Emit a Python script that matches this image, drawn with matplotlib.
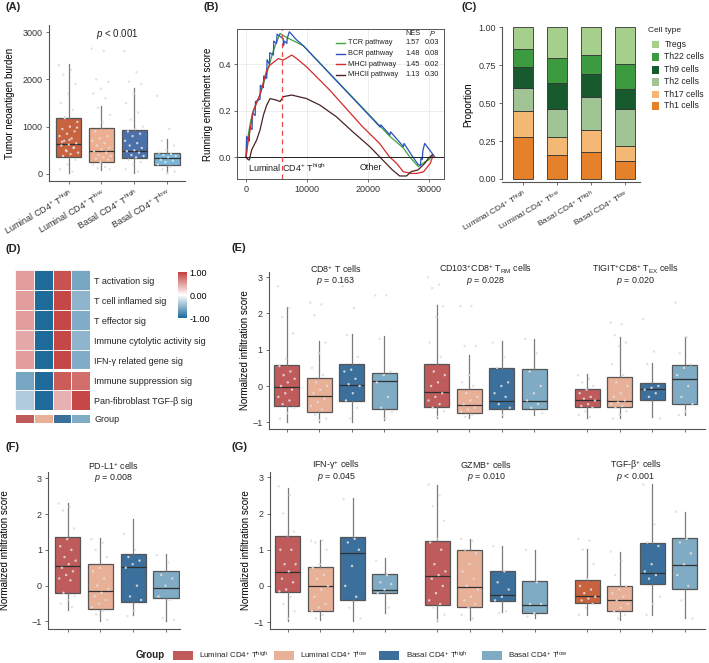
import numpy as np
import matplotlib
matplotlib.use("Agg")
import matplotlib.pyplot as plt
from matplotlib.colors import LinearSegmentedColormap, ListedColormap, Normalize
from matplotlib.cm import ScalarMappable
from matplotlib.patches import Rectangle

plt.rcParams['font.family'] = ['Liberation Sans', 'DejaVu Sans']
plt.rcParams['mathtext.fontset'] = 'custom'
plt.rcParams['mathtext.rm'] = 'Liberation Sans'
plt.rcParams['mathtext.it'] = 'Liberation Sans:italic'
plt.rcParams['text.color'] = '#222222'

W, H = 709, 663

groups = [r'Luminal CD4$^{+}$ T$^{\mathrm{high}}$', r'Luminal CD4$^{+}$ T$^{\mathrm{low}}$',
          r'Basal CD4$^{+}$ T$^{\mathrm{high}}$', r'Basal CD4$^{+}$ T$^{\mathrm{low}}$']

# ---- (A) tumor neoantigen burden
a_whislo = [20, 85, 14, 10]
a_q1 = [359, 260, 331, 190]
a_med = [627, 486, 493, 345]
a_q3 = [1176, 965, 930, 450]
a_whishi = [2317, 1437, 1810, 733]
a_points = [
    [2300, 2200, 2100, 1900, 1700, 1500, 1350, 1200, 1100, 1000, 950, 900, 850, 800, 750, 700, 650,
     620, 600, 550, 500, 450, 420, 380, 300, 200, 100, 50, 1180, 980, 720, 680, 560, 480],
    [2650, 2600, 2000, 1950, 1800, 1700, 1600, 1400, 1250, 1100, 900, 800, 750, 700, 650, 600, 550,
     520, 480, 450, 400, 380, 350, 320, 300, 250, 200, 150, 120, 100],
    [2600, 2150, 1950, 1900, 1700, 1500, 1300, 1150, 1000, 950, 900, 850, 800, 700, 650, 600, 550,
     500, 480, 450, 400, 380, 350, 300, 250, 200, 100, 50],
    [1650, 950, 700, 600, 500, 450, 420, 400, 380, 350, 300, 280, 250, 200, 150, 100, 50, 20],
]

# ---- (B) running enrichment score
gsea_names = ['TCR pathway', 'BCR pathway', 'MHCI pathway', 'MHCII pathway']
gsea_nes = ['1.57', '1.48', '1.45', '1.13']
gsea_p = ['0.03', '0.08', '0.02', '0.30']
tcr_x = [0, 400, 800, 1200, 2300, 3400, 4500, 5574, 6000, 7100, 9400, 23600, 25800, 26900, 28250, 29300, 30000, 30700]
tcr_y = [0, 0.10, 0.16, 0.20, 0.27, 0.36, 0.46, 0.533, 0.525, 0.51, 0.48, 0.09, 0.04, 0.0, -0.04, -0.02, -0.01, 0.01]
bcr_x = [0, 100, 550, 600, 1000, 1050, 1500, 1550, 2300, 2350, 2850, 2900, 3400, 3450, 3850, 3900, 4500, 4550,
         5000, 5100, 6100, 6150, 6300, 6700, 6750, 7100, 8300, 9400, 22000, 22100, 23600, 23700, 25800, 25900,
         27400, 28200, 28600, 28700, 28900, 29000, 29300, 31000]
bcr_y = [0, 0.09, 0.07, 0.13, 0.12, 0.19, 0.18, 0.24, 0.25, 0.31, 0.30, 0.35, 0.34, 0.42, 0.40, 0.45, 0.44, 0.50,
         0.49, 0.53, 0.51, 0.48, 0.50, 0.49, 0.51, 0.54, 0.505, 0.48, 0.13, 0.14, 0.096, 0.11, 0.046, 0.06,
         0.0, -0.03, -0.035, 0.0, -0.01, 0.03, 0.06, 0.0]
mhc1_x = [0, 383, 1200, 2300, 3400, 3900, 5300, 6100, 7500, 8300, 9900, 13700, 19100, 21900, 23500, 24700,
          25800, 27200, 28000, 29100, 30200, 30700]
mhc1_y = [0, 0.075, 0.2, 0.27, 0.375, 0.396, 0.425, 0.418, 0.44, 0.425, 0.39, 0.29, 0.132, 0.06, 0.003, -0.026,
          -0.062, -0.069, -0.069, -0.062, -0.026, 0.01]
mhc2_x = [0, 380, 550, 930, 1750, 2300, 2850, 3400, 3950, 5000, 5600, 6100, 7500, 9900, 12100, 14800, 17500,
          20300, 22400, 24000, 25200, 26300, 27100, 28200, 29300, 29900, 30500]
mhc2_y = [0, -0.01, -0.011, 0.032, 0.075, 0.118, 0.181, 0.225, 0.253, 0.246, 0.24, 0.261, 0.268, 0.253, 0.225,
          0.175, 0.11, 0.046, -0.011, -0.054, -0.08, -0.08, -0.061, -0.054, -0.026, -0.004, 0.01]
leading_edge = 5850

# ---- (C) cell type proportions
cell_types = ['Th1 cells', 'Th17 cells', 'Th2 cells', 'Th9 cells', 'Th22 cells', 'Tregs']
th1 = [0.28, 0.16, 0.18, 0.12]
th17 = [0.17, 0.12, 0.14, 0.10]
th2 = [0.15, 0.18, 0.22, 0.24]
th9 = [0.14, 0.17, 0.15, 0.13]
th22 = [0.12, 0.17, 0.13, 0.17]
tregs = [0.14, 0.20, 0.18, 0.24]

# ---- (D) signature heatmap
sig_names = ['T activation sig', 'T cell inflamed sig', 'T effector sig', 'Immune cytolytic activity sig',
             'IFN-γ related gene sig', 'Immune suppression sig', 'Pan-fibroblast TGF-β sig']
sig_values = [
    [0.50, -1.00, 0.90, -0.60],
    [0.50, -1.00, 0.95, -0.50],
    [0.50, -1.00, 0.95, -0.55],
    [0.45, -1.00, 0.95, -0.50],
    [0.50, -1.00, 0.95, -0.55],
    [-0.60, -1.00, 0.85, 0.75],
    [-0.35, -1.00, 0.40, 0.95],
]

# ---- (E) CD8 subsets
e_titles = [r'CD8$^{+}$ T cells', r'CD103$^{+}$CD8$^{+}$ T$_{\mathrm{RM}}$ cells', r'TIGIT$^{+}$CD8$^{+}$ T$_{\mathrm{EX}}$ cells']
e_pvals = [r'$p$ = 0.163', r'$p$ = 0.028', r'$p$ = 0.020']
e_whislo = [[-0.98, -0.98, -0.98, -0.94], [-0.89, -0.89, -0.85, -0.80], [-0.89, -0.89, -0.86, -0.80]]
e_q1 = [[-0.54, -0.71, -0.40, -0.64], [-0.59, -0.75, -0.64, -0.64], [-0.59, -0.57, -0.39, -0.50]]
e_med = [[-0.02, -0.28, 0.03, 0.14], [-0.17, -0.52, -0.40, -0.40], [-0.39, -0.41, -0.07, 0.18]]
e_q3 = [[0.58, 0.21, 0.61, 0.37], [0.61, -0.09, 0.51, 0.46], [-0.08, 0.24, 0.07, 0.59]]
e_whishi = [[2.17, 1.24, 1.43, 1.38], [2.23, 0.86, 1.24, 1.30], [0.33, 1.36, 0.63, 1.34]]
e_points = [
    [[2.75, 2.15, 1.9, 1.45, 0.75, 0.55, 0.4, 0.3, 0.2, 0.1, 0.0, -0.1, -0.2, -0.3, -0.4, -0.5, -0.6, -0.75, -0.9],
     [2.3, 2.25, 1.95, 1.2, 0.9, 0.5, 0.3, 0.1, 0.0, -0.1, -0.2, -0.35, -0.45, -0.55, -0.65, -0.8, -0.9, -0.95],
     [2.75, 2.15, 1.4, 0.8, 0.45, 0.4, 0.2, 0.05, 0.0, -0.2, -0.4, -0.6, -0.9],
     [2.5, 2.5, 1.3, 0.4, 0.3, 0.1, -0.3, -0.6, -0.7, -0.9]],
    [[3.0, 2.8, 2.7, 2.2, 1.9, 1.2, 0.8, 0.4, 0.3, 0.1, 0.0, -0.2, -0.3, -0.4, -0.5, -0.6, -0.7, -0.85],
     [2.2, 2.2, 1.1, 1.1, 0.3, 0.1, 0.0, -0.2, -0.3, -0.4, -0.5, -0.6, -0.65, -0.7, -0.8, -0.85],
     [1.2, 0.8, 0.5, 0.1, 0.0, -0.2, -0.3, -0.5, -0.6, -0.8],
     [1.3, 0.9, 0.4, 0.0, -0.2, -0.4, -0.5, -0.6, -0.75]],
    [[0.3, 0.2, 0.1, 0.0, -0.1, -0.2, -0.3, -0.35, -0.4, -0.5, -0.55, -0.6, -0.7, -0.8, -0.85],
     [1.75, 1.7, 1.4, 1.2, 1.1, 0.6, 0.3, 0.1, 0.0, -0.2, -0.3, -0.4, -0.45, -0.5, -0.55, -0.6, -0.7, -0.8, -0.9],
     [1.85, 0.95, 0.6, 0.0, -0.05, -0.1, -0.2, -0.3, -0.9],
     [2.3, 1.35, 0.9, 0.6, 0.5, 0.3, 0.0, -0.3, -0.5, -0.7, -0.8]],
]

# ---- (F) PD-L1+ cells
f_title = r'PD-L1$^{+}$ cells'
f_pval = r'$p$ = 0.008'
f_whislo = [-0.68, -0.99, -0.83, -1.00]
f_q1 = [-0.20, -0.64, -0.46, -0.35]
f_med = [0.56, -0.15, 0.52, -0.06]
f_q3 = [1.35, 0.61, 0.89, 0.42]
f_whishi = [2.32, 1.32, 1.85, 0.88]
f_points = [
    [2.3, 2.2, 2.1, 1.6, 1.3, 1.1, 1.0, 0.8, 0.7, 0.6, 0.5, 0.4, 0.3, 0.2, 0.15, -0.2, -0.3, -0.4, -0.5, -0.6],
    [1.3, 1.2, 1.0, 0.8, 0.5, 0.4, 0.2, 0.0, -0.1, -0.2, -0.3, -0.4, -0.5, -0.6, -0.7, -0.8, -0.95],
    [1.45, 1.0, 0.8, 0.7, 0.6, 0.5, 0.0, -0.3, -0.4, -0.7, -0.85],
    [0.85, 0.65, 0.3, 0.2, 0.0, -0.3, -0.4, -0.9, -0.95],
]

# ---- (G) effector / suppressive cells
g_titles = [r'IFN-γ$^{+}$ cells', r'GZMB$^{+}$ cells', r'TGF-β$^{+}$ cells']
g_pvals = [r'$p$ = 0.045', r'$p$ = 0.010', r'$p$ < 0.001']
g_whislo = [[-0.97, -0.94, -0.97, -0.75], [-0.97, -0.93, -0.72, -0.89], [-0.81, -0.93, -0.81, -0.89]]
g_q1 = [[-0.17, -0.68, -0.40, -0.20], [-0.52, -0.57, -0.43, -0.75], [-0.48, -0.68, 0.05, -0.09]]
g_med = [[0.38, 0.0, 0.90, -0.11], [0.28, -0.02, -0.24, -0.52], [-0.27, -0.40, 0.35, 0.58]]
g_q3 = [[1.38, 0.53, 1.34, 0.33], [1.24, 0.99, 0.41, 0.14], [0.15, 0.01, 1.18, 1.33]]
g_whishi = [[2.70, 1.27, 2.42, 0.76], [2.79, 1.29, 1.10, 0.98], [1.01, 0.95, 2.82, 2.05]]
g_points = [
    [[2.75, 2.5, 2.0, 1.5, 1.4, 1.0, 1.0, 0.6, 0.6, 0.4, 0.2, 0.1, -0.1, -0.15, -0.3, -0.5, -0.7, -0.9],
     [1.25, 1.25, 1.2, 1.0, 0.6, 0.5, 0.3, 0.2, 0.0, -0.1, -0.3, -0.5, -0.6, -0.7, -0.8, -0.9],
     [2.4, 1.3, 1.2, 1.0, 0.55, 0.0, -0.3, -0.6, -0.9],
     [0.7, 0.3, 0.1, 0.05, -0.1, -0.2, -0.6]],
    [[2.8, 2.5, 2.2, 1.8, 1.3, 1.2, 1.0, 0.6, 0.4, 0.3, 0.2, 0.0, -0.2, -0.4, -0.5, -0.6, -0.8, -0.95],
     [1.3, 1.25, 1.0, 0.9, 0.6, 0.4, 0.2, 0.0, -0.1, -0.3, -0.4, -0.5, -0.6, -0.8, -0.9],
     [1.1, 0.4, 0.1, -0.1, -0.3, -0.4, -0.7, -0.75],
     [1.0, 0.1, -0.5, -0.5, -0.75, -0.85]],
    [[1.3, 1.25, 1.0, 0.6, 0.2, 0.0, -0.1, -0.2, -0.3, -0.35, -0.4, -0.5, -0.6, -0.8],
     [0.95, 0.7, 0.3, 0.0, -0.1, -0.2, -0.3, -0.4, -0.5, -0.6, -0.7, -0.8, -0.9],
     [2.8, 1.7, 1.2, 1.1, 0.6, 0.4, 0.3, 0.2, -0.3, -0.5, -0.8],
     [2.05, 1.3, 1.2, 0.9, 0.6, 0.3, 0.0, -0.4, -0.9]],
]

pal_a = ['#c8623f', '#eeae90', '#4b70aa', '#7ab6da']
pal_e = ['#c05b5c', '#e9b098', '#3b6f9c', '#80abc4']
pal_g3 = ['#c8623f', '#e9b098', '#3b6f9c', '#80abc4']
cell_colors = ['#e5812b', '#f2b874', '#a0c493', '#175a2e', '#3b9b3e', '#a6cf8e']
gsea_colors = ['#3aa83a', '#2a50bb', '#d42a2a', '#4a2323']
TICK = 6.5
LAB = 7
TITLE = 6.4


def px_axes(fig, left, top, right, bottom):
    return fig.add_axes([left / W, 1 - bottom / H, (right - left) / W, (bottom - top) / H])


def style(ax):
    for s in ['top', 'right']:
        ax.spines[s].set_visible(False)
    for s in ['left', 'bottom']:
        ax.spines[s].set_color('#555555')
        ax.spines[s].set_linewidth(0.8)
    ax.tick_params(labelsize=TICK, length=2.5, width=0.6, color='#555555', labelcolor='#333333', pad=2)


def draw_boxes(ax, positions, whislo, q1, med, q3, whishi, points, colors, spread=0.55):
    stats = [dict(whislo=a, q1=b, med=c, q3=d, whishi=e, fliers=[])
             for a, b, c, d, e in zip(whislo, q1, med, q3, whishi)]
    bp = ax.bxp(stats, positions=positions, widths=0.77, patch_artist=True, showfliers=False,
                showcaps=False, manage_ticks=False,
                boxprops=dict(edgecolor='#555555', linewidth=0.9),
                whiskerprops=dict(color='#7a7a7a', linewidth=0.9),
                medianprops=dict(color='#303030', linewidth=0.9))
    for patch, c in zip(bp['boxes'], colors):
        patch.set_facecolor(c)
    for p, vals in zip(positions, points):
        vals = np.asarray(vals, dtype=float)
        jit = ((np.arange(len(vals)) * 0.618034) % 1 - 0.5) * spread
        ax.scatter(p + jit, vals, s=3, color='#dedede', edgecolors='none', alpha=0.9, zorder=4)


fig = plt.figure(figsize=(W / 100, H / 100), dpi=100)

# ---------------- (A)
ax = px_axes(fig, 49, 25, 185, 181)
style(ax)
pos = np.arange(4)
draw_boxes(ax, pos, a_whislo, a_q1, a_med, a_q3, a_whishi, a_points, pal_a, spread=0.6)
ax.set_xlim(-0.6, 3.55)
ax.set_ylim(-150, 3150)
ax.set_yticks([0, 1000, 2000, 3000])
ax.set_xticks(pos)
ax.set_xticklabels(groups, rotation=30, ha='right', rotation_mode='anchor', fontsize=TICK)
ax.set_ylabel('Tumor neoantigen burden', fontsize=LAB)
ax.yaxis.set_label_coords(-0.25, 0.5)
ax.text(1.5, 2970, r'$p$ < 0.001', ha='center', va='center', fontsize=LAB)

# ---------------- (B)
ax = px_axes(fig, 237, 29, 444, 179)
for s in ax.spines.values():
    s.set_color('#555555')
    s.set_linewidth(0.7)
ax.tick_params(labelsize=TICK, length=2.5, width=0.6, color='#555555', labelcolor='#333333', pad=2)
ax.grid(True, color='#e6e6e6', linewidth=0.5)
ax.set_axisbelow(True)
for xs, ys, c in zip([tcr_x, bcr_x, mhc1_x, mhc2_x], [tcr_y, bcr_y, mhc1_y, mhc2_y], gsea_colors):
    ax.plot(xs, ys, color=c, linewidth=0.9)
ax.axhline(0, color='#222222', linewidth=0.7)
ax.axvline(leading_edge, color='#e84a4a', linestyle=(0, (4, 3)), linewidth=0.9)
ax.set_xlim(-1475, 32460)
ax.set_ylim(-0.093, 0.552)
ax.set_xticks([0, 10000, 20000, 30000])
ax.set_yticks([0.0, 0.2, 0.4])
ax.set_yticklabels(['0.0', '0.2', '0.4'])
ax.set_ylabel('Running enrichment score', fontsize=LAB)
ax.yaxis.set_label_coords(-0.116, 0.5)
ax.text(0.053, 0.075, r'Luminal CD4$^{+}$ T$^{\mathrm{high}}$', transform=ax.transAxes, fontsize=TICK, va='center')
ax.text(0.594, 0.075, 'Other', transform=ax.transAxes, fontsize=TICK, va='center')
ax.text(0.85, 0.973, 'NES', transform=ax.transAxes, fontsize=5.3, ha='center', va='center')
ax.text(0.944, 0.973, r'$P$', transform=ax.transAxes, fontsize=5.3, ha='center', va='center')
for i, (nm, nes, pv, c) in enumerate(zip(gsea_names, gsea_nes, gsea_p, gsea_colors)):
    yy = 0.907 - i * 0.071
    ax.plot([0.478, 0.522], [yy, yy], color=c, linewidth=1.0, transform=ax.transAxes)
    ax.text(0.536, yy, nm, transform=ax.transAxes, fontsize=5.3, va='center')
    ax.text(0.85, yy, nes, transform=ax.transAxes, fontsize=5.3, va='center', ha='center')
    ax.text(0.944, yy, pv, transform=ax.transAxes, fontsize=5.3, va='center', ha='center')

# ---------------- (C)
ax = px_axes(fig, 502, 27.3, 640, 181.7)
style(ax)
bottom = np.zeros(4)
for vals, c in zip([th1, th17, th2, th9, th22, tregs], cell_colors):
    ax.bar(pos, vals, bottom=bottom, width=0.59, color=c, edgecolor='#333333', linewidth=0.6)
    bottom += np.array(vals)
ax.set_xlim(-0.62, 3.44)
ax.set_ylim(-0.018, 1.0)
ax.spines['left'].set_bounds(0, 1)
ax.set_yticks([0, 0.25, 0.5, 0.75, 1.0])
ax.set_yticklabels(['0.00', '0.25', '0.50', '0.75', '1.00'])
ax.set_xticks(pos)
ax.set_xticklabels(groups, rotation=30, ha='right', rotation_mode='anchor', fontsize=6)
ax.set_ylabel('Proportion', fontsize=LAB)
ax.yaxis.set_label_coords(-0.21, 0.5)
fig.text(648.3 / W, 1 - 31 / H, 'Cell type', fontsize=6, va='center')
leg_rows = [44.3, 56.7, 70, 81.7, 94.3, 106]
for yy, nm, c in zip(leg_rows, cell_types[::-1], cell_colors[::-1]):
    fig.add_artist(Rectangle((651.7 / W, 1 - (yy + 3.8) / H), 7.6 / W, 7.6 / H, transform=fig.transFigure,
                             facecolor=c, edgecolor='none'))
    fig.text(664.3 / W, 1 - yy / H, nm, fontsize=6.2, va='center')

# ---------------- (D)
cmap = LinearSegmentedColormap.from_list('bwr_d', ['#1d6a9b', '#ffffff', '#c33f3d'])
ax = px_axes(fig, 15, 270, 90, 410)
ax.pcolormesh(np.array(sig_values), cmap=cmap, vmin=-1, vmax=1, edgecolors='#f4f4f4', linewidth=0.4)
ax.axhline(5, color='white', linewidth=2.2)
ax.set_ylim(7, 0)
ax.set_xticks([])
ax.yaxis.tick_right()
ax.set_yticks(np.arange(7) + 0.5)
ax.set_yticklabels(sig_names, fontsize=TICK, color='#222222')
ax.tick_params(axis='y', length=0, pad=3)
for s in ax.spines.values():
    s.set_visible(False)

ax = px_axes(fig, 15, 414, 90, 423)
ax.pcolormesh(np.arange(4)[None, :], cmap=ListedColormap(pal_e), vmin=-0.5, vmax=3.5,
              edgecolors='white', linewidth=0.4)
ax.set_xticks([])
ax.yaxis.tick_right()
ax.set_yticks([0.5])
ax.set_yticklabels(['Group'], fontsize=TICK, color='#222222')
ax.tick_params(axis='y', length=0, pad=3)
for s in ax.spines.values():
    s.set_visible(False)

cax = px_axes(fig, 178, 272, 187, 318)
cb = fig.colorbar(ScalarMappable(norm=Normalize(-1, 1), cmap=cmap), cax=cax, ticks=[-1, 0, 1])
cb.outline.set_visible(False)
cax.set_yticklabels(['-1.00', '0.00', '1.00'])
cax.tick_params(length=0, labelsize=TICK, pad=2)

# ---------------- (E), (G)
grp_pos = [np.arange(4) + g * 4.62 for g in range(3)]


def multi_panel(ax, whislo, q1, med, q3, whishi, points, titles, pvals, palettes, ty):
    style(ax)
    for g in range(3):
        draw_boxes(ax, grp_pos[g], whislo[g], q1[g], med[g], q3[g], whishi[g], points[g], palettes[g])
        cx = grp_pos[g].mean()
        ax.text(cx, ty[0], titles[g], ha='center', va='center', fontsize=TITLE, clip_on=False)
        ax.text(cx, ty[1], pvals[g], ha='center', va='center', fontsize=TITLE, clip_on=False)
    ax.set_xlim(-0.545, 12.87)
    ax.set_xticks(np.concatenate(grp_pos))
    ax.set_xticklabels([])
    ax.set_yticks([-1, 0, 1, 2, 3])
    ax.set_ylabel('Normalized infiltration score', fontsize=LAB)
    ax.yaxis.set_label_coords(-0.044, 0.5)


ax = px_axes(fig, 269, 271.7, 705, 429)
ax.set_ylim(-1.186, 3.153)
multi_panel(ax, e_whislo, e_q1, e_med, e_q3, e_whishi, e_points, e_titles, e_pvals,
            [pal_e, pal_e, pal_e], (3.23, 2.89))

ax = px_axes(fig, 270, 471.7, 705, 629)
ax.set_ylim(-1.19, 3.155)
multi_panel(ax, g_whislo, g_q1, g_med, g_q3, g_whishi, g_points, g_titles, g_pvals,
            [pal_e, pal_e, pal_g3], (3.34, 3.0))

# ---------------- (F)
ax = px_axes(fig, 48.3, 471.7, 180, 629)
style(ax)
draw_boxes(ax, pos, f_whislo, f_q1, f_med, f_q3, f_whishi, f_points, pal_e)
ax.set_xlim(-0.59, 3.43)
ax.set_ylim(-1.21, 3.184)
ax.set_xticks(pos)
ax.set_xticklabels([])
ax.set_yticks([-1, 0, 1, 2, 3])
ax.text(1.4, 3.34, f_title, ha='center', va='center', fontsize=TITLE, clip_on=False)
ax.text(1.4, 3.0, f_pval, ha='center', va='center', fontsize=TITLE, clip_on=False)
ax.set_ylabel('Normalized infiltration score', fontsize=LAB)
ax.yaxis.set_label_coords(-0.29, 0.5)

# ---------------- bottom legend
fig.text(136 / W, 1 - 655 / H, 'Group', fontsize=LAB, fontweight='bold', va='center')
for x0, nm, c in zip([172.7, 274, 379, 482], groups, pal_e):
    fig.add_artist(Rectangle((x0 / W, 1 - 659.5 / H), 20 / W, 9 / H, transform=fig.transFigure,
                             facecolor=c, edgecolor='none'))
    fig.text((x0 + 26.5) / W, 1 - 655 / H, nm, fontsize=5.8, va='center')

# panel labels
for lab, x, y in [('(A)', 5, 7), ('(B)', 203, 7), ('(C)', 462, 7), ('(D)', 5, 249),
                  ('(E)', 232, 248), ('(F)', 5, 447), ('(G)', 232, 447)]:
    fig.text(x / W, 1 - y / H, lab, fontsize=8, fontweight='bold', va='center')

fig.savefig('out.png', dpi=100)
